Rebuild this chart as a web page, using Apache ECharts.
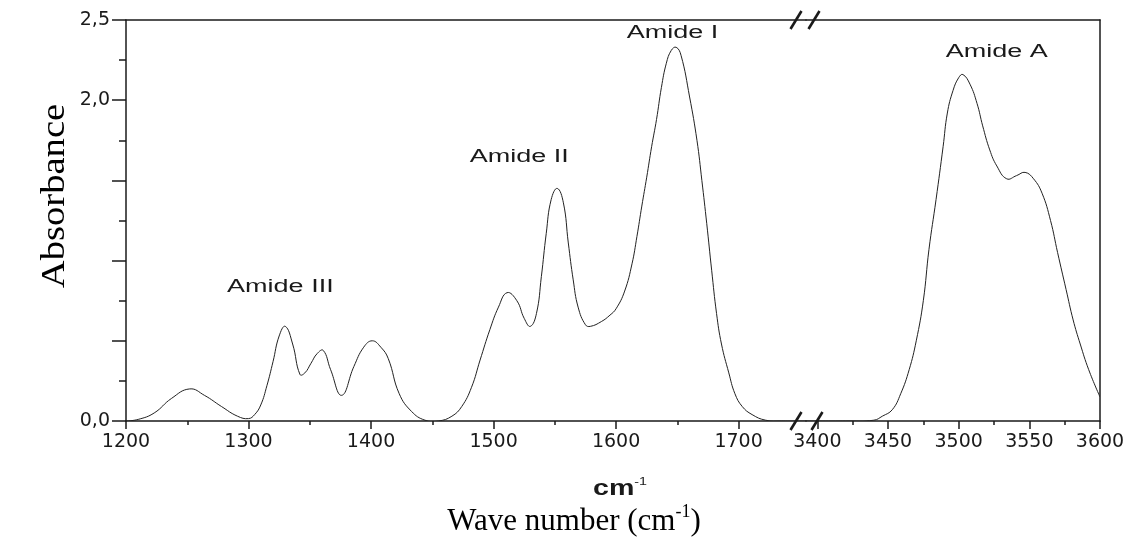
<!DOCTYPE html>
<html>
<head>
<meta charset="utf-8">
<script src="https://cdn.jsdelivr.net/npm/echarts@6/dist/echarts.min.js"></script>
<style>
  html, body { margin: 0; padding: 0; background: #fff; }
  #chart { width: 1131px; height: 537px; }
</style>
</head>
<body>
<div id="chart"></div>
<script>
// FTIR spectrum: amide bands (left panel) and amide A band (right panel)
const leftWavenumber = [
  1200, 1210, 1223, 1237, 1252, 1264, 1278, 1291, 1300, 1305,
  1310, 1315, 1320, 1325, 1330, 1336, 1342, 1346, 1351, 1356,
  1361, 1367, 1376, 1386, 1394, 1401, 1408, 1414, 1423, 1433,
  1444, 1455, 1466, 1474, 1482, 1489, 1497, 1504, 1511, 1519,
  1525, 1530, 1535, 1539, 1543, 1547, 1552, 1557, 1561, 1565,
  1569, 1575, 1579, 1588, 1595, 1600, 1607, 1613, 1617, 1621,
  1625, 1629, 1633, 1637, 1641, 1645, 1649, 1653, 1660, 1666,
  1670, 1674, 1678, 1682, 1686, 1692, 1697, 1703, 1711, 1722,
  1735, 1755
];
const leftAbsorbance = [
  0.00, 0.01, 0.05, 0.14, 0.20, 0.16, 0.09, 0.03, 0.015, 0.04,
  0.10, 0.22, 0.37, 0.53, 0.59, 0.48, 0.29, 0.30, 0.36, 0.42,
  0.44, 0.32, 0.16, 0.34, 0.46, 0.50, 0.46, 0.39, 0.17, 0.06,
  0.005, 0.00, 0.03, 0.09, 0.21, 0.38, 0.57, 0.71, 0.80, 0.75,
  0.64, 0.59, 0.67, 0.90, 1.17, 1.38, 1.45, 1.36, 1.11, 0.88,
  0.71, 0.60, 0.59, 0.62, 0.66, 0.70, 0.81, 0.98, 1.15, 1.34,
  1.52, 1.71, 1.88, 2.08, 2.23, 2.31, 2.33, 2.28, 2.02, 1.75,
  1.50, 1.23, 0.94, 0.67, 0.48, 0.30, 0.17, 0.09, 0.04, 0.005,
  0.00, 0.00
];

const rightWavenumber = [3392, 3420, 3440, 3446, 3453, 3459, 3465, 3470, 3475, 3479, 3484, 3489, 3492, 3496, 3500, 3503, 3508, 3513, 3517, 3522, 3527, 3534, 3541, 3547, 3553, 3559, 3565, 3570, 3576, 3581, 3586, 3592, 3600];
const rightAbsorbance = [0.00, 0.00, 0.005, 0.03, 0.07, 0.17, 0.32, 0.50, 0.75, 1.07, 1.38, 1.71, 1.92, 2.06, 2.14, 2.16, 2.10, 1.98, 1.84, 1.69, 1.59, 1.51, 1.53, 1.55, 1.51, 1.42, 1.25, 1.05, 0.82, 0.63, 0.48, 0.32, 0.15];

const leftTickLabels = [1200, 1300, 1400, 1500, 1600, 1700];
const leftMinorTicks = [1250, 1350, 1450, 1550, 1650];
const rightTickLabels = [3400, 3450, 3500, 3550, 3600];
const rightMinorTicks = [3425, 3475, 3525, 3575];
const yLabelValues = [0, 2.0, 2.5];

const bandNames = ['Amide III', 'Amide II', 'Amide I', 'Amide A'];
const bandWavenumber = [1326, 1521, 1646, 3527];
const bandLabelAbsorbance = [0.835, 1.646, 2.42, 2.30];
const bandPanel = [0, 0, 0, 1];

const INK = '#1a1a1a';
const SANS = 'DejaVu Sans';
const LABEL_SANS = 'Liberation Sans';
const SERIF = 'Liberation Serif';

const PLOT_LEFT = 126, PLOT_TOP = 20, PLOT_RIGHT = 1100, PLOT_HEIGHT = 401;
const BREAK_X = 806;

const chart = echarts.init(document.getElementById('chart'), null, { renderer: 'canvas' });

const axisLine = { show: true, lineStyle: { color: INK, width: 1.5 } };
const noTick = { show: false };
const noLabel = { show: false };

function mainX(grid, min, max, labels) {
  return {
    type: 'value', gridIndex: grid, position: 'bottom', min: min, max: max,
    axisLine: axisLine,
    splitLine: { show: false },
    axisTick: { show: true, inside: false, length: 8, customValues: labels, lineStyle: { color: INK, width: 1.5 } },
    axisLabel: {
      show: true, customValues: labels, margin: 12, color: INK, fontFamily: SANS, fontSize: 19,
      formatter: function (v) { return String(v); }
    }
  };
}
function minorX(grid, min, max, ticks) {
  return {
    type: 'value', gridIndex: grid, position: 'bottom', min: min, max: max,
    axisLine: { show: false }, splitLine: { show: false },
    axisTick: { show: true, inside: false, length: 4, customValues: ticks, lineStyle: { color: INK, width: 1.5 } },
    axisLabel: noLabel
  };
}
function topX(grid, min, max) {
  return {
    type: 'value', gridIndex: grid, position: 'top', min: min, max: max,
    axisLine: axisLine, axisTick: noTick, axisLabel: noLabel, splitLine: { show: false }
  };
}

// The spectrum is drawn as one smooth spline through all readings of a panel,
// each reading placed with the panel's own axes (api.coord).
function spectrum(xIndex, yIndex, xs, ys) {
  return {
    type: 'custom', xAxisIndex: xIndex, yAxisIndex: yIndex, clip: true,
    encode: { x: 0, y: 1 },
    data: xs.map(function (w, i) { return [w, ys[i]]; }),
    renderItem: function (params, api) {
      if (params.dataIndexInside !== 0) return null;
      const pts = [];
      for (let i = 0; i < params.dataInsideLength; i++) {
        pts.push(api.coord([api.value(0, i), api.value(1, i)]));
      }
      return {
        type: 'polyline',
        shape: { points: pts, smooth: 0.45 },
        style: { stroke: '#222', lineWidth: 1, fill: null }
      };
    }
  };
}

const option = {
  backgroundColor: '#fff',
  animation: false,
  grid: [
    { left: PLOT_LEFT, top: PLOT_TOP, width: BREAK_X - PLOT_LEFT, height: PLOT_HEIGHT },
    { left: BREAK_X, top: PLOT_TOP, width: PLOT_RIGHT - BREAK_X, height: PLOT_HEIGHT }
  ],
  xAxis: [
    mainX(0, 1200, 1755, leftTickLabels),
    minorX(0, 1200, 1755, leftMinorTicks),
    topX(0, 1200, 1755),
    mainX(1, 3392, 3600, rightTickLabels),
    minorX(1, 3392, 3600, rightMinorTicks),
    topX(1, 3392, 3600)
  ],
  yAxis: [
    {
      type: 'value', gridIndex: 0, position: 'left', min: 0, max: 2.5, interval: 0.5,
      axisLine: axisLine,
      splitLine: { show: false },
      axisTick: { show: true, inside: false, length: 14, lineStyle: { color: INK, width: 1.5 } },
      minorTick: { show: true, splitNumber: 2, length: 7, lineStyle: { color: INK, width: 1.5 } },
      axisLabel: {
        margin: 16, color: INK, fontFamily: SANS, fontSize: 19,
        formatter: function (v) {
          return yLabelValues.some(function (y) { return Math.abs(y - v) < 1e-9; })
            ? v.toFixed(1).replace('.', ',') : '';
        }
      }
    },
    {
      type: 'value', gridIndex: 1, position: 'right', min: 0, max: 2.5,
      axisLine: axisLine, axisTick: noTick, axisLabel: noLabel, splitLine: { show: false }
    }
  ],
  series: [
    spectrum(0, 0, leftWavenumber, leftAbsorbance),
    spectrum(3, 1, rightWavenumber, rightAbsorbance)
  ]
};

chart.setOption(option);

// Decorations: band names, axis titles and the "//" break marks
function breakMark(cx, cy) {
  return {
    type: 'line', silent: true, z: 10,
    shape: { x1: cx - 5.5, y1: cy + 9, x2: cx + 5.5, y2: cy - 9 },
    style: { stroke: INK, lineWidth: 2.6 }
  };
}

const graphics = [];
bandNames.forEach(function (name, i) {
  const finder = bandPanel[i] === 0 ? { xAxisIndex: 0, yAxisIndex: 0 } : { xAxisIndex: 3, yAxisIndex: 1 };
  const p = chart.convertToPixel(finder, [bandWavenumber[i], bandLabelAbsorbance[i]]);
  graphics.push({
    type: 'text', x: p[0], y: p[1], scaleX: 1.5, silent: true,
    style: {
      text: name, fill: INK, fontFamily: LABEL_SANS, fontSize: 18,
      align: 'center', verticalAlign: 'middle', textAlign: 'center', textVerticalAlign: 'middle'
    }
  });
});

const plotCenter = (PLOT_LEFT + PLOT_RIGHT) / 2;
const bottomY = PLOT_TOP + PLOT_HEIGHT;

graphics.push({
  type: 'text', x: plotCenter + 7, y: 488, scaleX: 1.3, silent: true,
  style: {
    text: '{m|cm}{s|-1}', align: 'center', verticalAlign: 'middle', textAlign: 'center', textVerticalAlign: 'middle',
    rich: {
      m: { fontFamily: LABEL_SANS, fontWeight: 'bold', fontSize: 22, lineHeight: 24, verticalAlign: 'bottom', fill: INK, color: INK },
      s: { fontFamily: LABEL_SANS, fontSize: 11, lineHeight: 12, verticalAlign: 'top', fill: INK, color: INK }
    }
  }
});

graphics.push({
  type: 'text', x: 574, y: 520, silent: true,
  style: {
    text: '{n|Wave number (cm}{s|-1}{n|)}', align: 'center', verticalAlign: 'middle', textAlign: 'center', textVerticalAlign: 'middle',
    rich: {
      n: { fontFamily: SERIF, fontSize: 31, lineHeight: 34, verticalAlign: 'bottom', fill: '#000', color: '#000' },
      s: { fontFamily: SERIF, fontSize: 18, lineHeight: 20, verticalAlign: 'top', fill: '#000', color: '#000' }
    }
  }
});

graphics.push({
  type: 'text', x: 55, y: 196, rotation: Math.PI / 2, scaleX: 1.17, silent: true,
  style: {
    text: 'Absorbance', fill: '#000', fontFamily: SERIF, fontSize: 33,
    align: 'center', verticalAlign: 'middle', textAlign: 'center', textVerticalAlign: 'middle'
  }
});

graphics.push(breakMark(BREAK_X - 10, bottomY));
graphics.push(breakMark(BREAK_X + 11, bottomY));
graphics.push(breakMark(BREAK_X - 10, PLOT_TOP));
graphics.push(breakMark(BREAK_X + 8, PLOT_TOP));

chart.setOption({ graphic: { elements: graphics } });
</script>
</body>
</html>
